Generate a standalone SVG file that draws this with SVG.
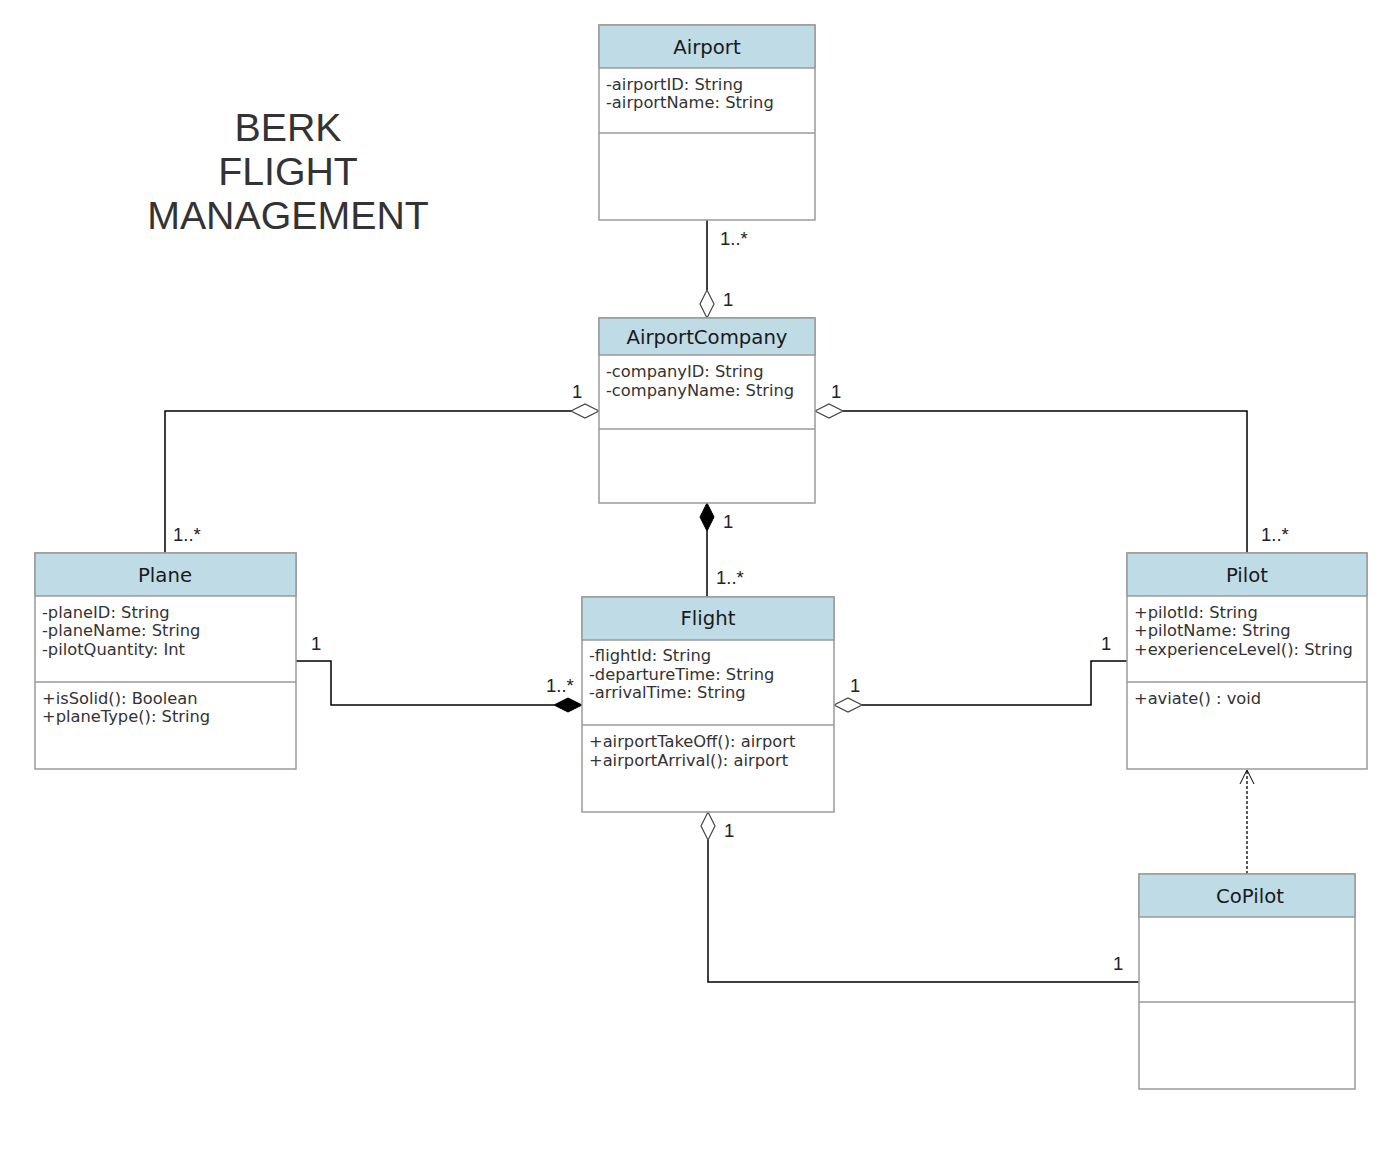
<svg xmlns="http://www.w3.org/2000/svg" width="1392" height="1164" viewBox="0 0 1392 1164">
<style>
.box{fill:#ffffff;stroke:#9a9a9a;stroke-width:1.5}
.hdr{fill:#bfdbe5;stroke:#9a9a9a;stroke-width:1.5}
.div{stroke:#9a9a9a;stroke-width:1.5}
.ttl{font-family:"DejaVu Sans",Verdana,sans-serif;font-size:19.7px;fill:#1a1a1a;text-anchor:middle}
.att{font-family:"DejaVu Sans",Verdana,sans-serif;font-size:16.3px;fill:#333333}
.lbl{font-family:"Liberation Sans",Arial,sans-serif;font-size:18.5px;fill:#222222}
.ln{fill:none;stroke:#000000;stroke-width:1.5}
.dash{fill:none;stroke:#000000;stroke-width:1.3;stroke-dasharray:3,2}
.hd{fill:#ffffff;stroke:#444444;stroke-width:1.2}
.fd{fill:#000000;stroke:#000000;stroke-width:1}
.big{font-family:"Liberation Sans",Arial,sans-serif;font-size:39.3px;fill:#333333;text-anchor:middle}
</style>
<rect width="1392" height="1164" fill="#ffffff"/>
<g id="title">
<text class="big" x="288" y="141">BERK</text>
<text class="big" x="288" y="185">FLIGHT</text>
<text class="big" x="288" y="229">MANAGEMENT</text>
</g>
<g id="connectors">
<path class="ln" d="M707,220 V290"/>
<path class="hd" d="M707,318 L700,304 L707,290 L714,304 Z"/>
<path class="ln" d="M571,411 H165 V553"/>
<path class="hd" d="M599,411 L585,404 L571,411 L585,418 Z"/>
<path class="ln" d="M843,411 H1247 V553"/>
<path class="hd" d="M815,411 L829,404 L843,411 L829,418 Z"/>
<path class="ln" d="M707,531 V597"/>
<path class="fd" d="M707,503 L714,517 L707,531 L700,517 Z"/>
<path class="ln" d="M296,661 H331 V705 H554"/>
<path class="fd" d="M582,705 L568,698 L554,705 L568,712 Z"/>
<path class="ln" d="M862,705 H1091 V661 H1127"/>
<path class="hd" d="M834,705 L848,698 L862,705 L848,712 Z"/>
<path class="ln" d="M708,840 V982 H1139"/>
<path class="hd" d="M708,812 L715,826 L708,840 L701,826 Z"/>
<path class="dash" d="M1247,874 V771"/>
<path class="ln" d="M1240,784 L1247,770 L1254,784" style="stroke-width:1"/>
<text class="lbl" x="720" y="245">1..*</text>
<text class="lbl" x="723" y="306">1</text>
<text class="lbl" x="572" y="398">1</text>
<text class="lbl" x="173" y="541">1..*</text>
<text class="lbl" x="831" y="398">1</text>
<text class="lbl" x="1261" y="541">1..*</text>
<text class="lbl" x="723" y="528">1</text>
<text class="lbl" x="716" y="584">1..*</text>
<text class="lbl" x="311" y="650">1</text>
<text class="lbl" x="546" y="692">1..*</text>
<text class="lbl" x="850" y="692">1</text>
<text class="lbl" x="1101" y="650">1</text>
<text class="lbl" x="724" y="837">1</text>
<text class="lbl" x="1113" y="970">1</text>
</g>
<g id="Airport">
<rect class="box" x="599" y="25" width="216" height="195"/>
<rect class="hdr" x="599" y="25" width="216" height="43"/>
<line class="div" x1="599" y1="133" x2="815" y2="133"/>
<text class="ttl" x="707" y="54">Airport</text>
<text class="att" x="606" y="90">-airportID: String</text>
<text class="att" x="606" y="108">-airportName: String</text>
</g>
<g id="AirportCompany">
<rect class="box" x="599" y="318" width="216" height="185"/>
<rect class="hdr" x="599" y="318" width="216" height="37"/>
<line class="div" x1="599" y1="429" x2="815" y2="429"/>
<text class="ttl" x="707" y="344">AirportCompany</text>
<text class="att" x="606" y="377">-companyID: String</text>
<text class="att" x="606" y="396">-companyName: String</text>
</g>
<g id="Plane">
<rect class="box" x="35" y="553" width="261" height="216"/>
<rect class="hdr" x="35" y="553" width="261" height="43"/>
<line class="div" x1="35" y1="682" x2="296" y2="682"/>
<text class="ttl" x="165" y="582">Plane</text>
<text class="att" x="42" y="618">-planeID: String</text>
<text class="att" x="42" y="636">-planeName: String</text>
<text class="att" x="42" y="655">-pilotQuantity: Int</text>
<text class="att" x="42" y="704">+isSolid(): Boolean</text>
<text class="att" x="42" y="722">+planeType(): String</text>
</g>
<g id="Flight">
<rect class="box" x="582" y="597" width="252" height="215"/>
<rect class="hdr" x="582" y="597" width="252" height="43"/>
<line class="div" x1="582" y1="725" x2="834" y2="725"/>
<text class="ttl" x="708" y="625">Flight</text>
<text class="att" x="589" y="661">-flightId: String</text>
<text class="att" x="589" y="680">-departureTime: String</text>
<text class="att" x="589" y="698">-arrivalTime: String</text>
<text class="att" x="589" y="747">+airportTakeOff(): airport</text>
<text class="att" x="589" y="766">+airportArrival(): airport</text>
</g>
<g id="Pilot">
<rect class="box" x="1127" y="553" width="240" height="216"/>
<rect class="hdr" x="1127" y="553" width="240" height="43"/>
<line class="div" x1="1127" y1="682" x2="1367" y2="682"/>
<text class="ttl" x="1247" y="582">Pilot</text>
<text class="att" x="1134" y="618">+pilotId: String</text>
<text class="att" x="1134" y="636">+pilotName: String</text>
<text class="att" x="1134" y="655">+experienceLevel(): String</text>
<text class="att" x="1134" y="704">+aviate() : void</text>
</g>
<g id="CoPilot">
<rect class="box" x="1139" y="874" width="216" height="215"/>
<rect class="hdr" x="1139" y="874" width="216" height="43"/>
<line class="div" x1="1139" y1="1002" x2="1355" y2="1002"/>
<text class="ttl" x="1250" y="903">CoPilot</text>
</g>
</svg>
